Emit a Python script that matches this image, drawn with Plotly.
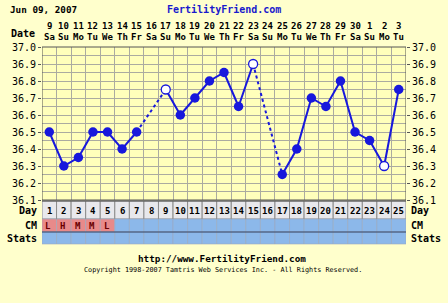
import plotly.graph_objects as go

# ---- data ----
days = list(range(1, 26))
dates = ["9", "10", "11", "12", "13", "14", "15", "16", "17", "18", "19", "20", "21",
         "22", "23", "24", "25", "26", "27", "28", "29", "30", "1", "2", "3"]
weekdays = ["Sa", "Su", "Mo", "Tu", "We", "Th", "Fr", "Sa", "Su", "Mo", "Tu", "We", "Th",
            "Fr", "Sa", "Su", "Mo", "Tu", "We", "Th", "Fr", "Sa", "Su", "Mo", "Tu"]
temps = [36.5, 36.3, 36.35, 36.5, 36.5, 36.4, 36.5, None, 36.75, 36.6, 36.7, 36.8, 36.85,
         36.65, 36.9, None, 36.25, 36.4, 36.7, 36.65, 36.8, 36.5, 36.45, 36.3, 36.75]
open_days = [9, 15, 24]
cm = ["L", "H", "M", "M", "L"]
y_ticks = [36.1, 36.2, 36.3, 36.4, 36.5, 36.6, 36.7, 36.8, 36.9, 37.0]

# ---- geometry helpers (pixels -> paper) ----
W, H = 448, 303
L, R, T, B = 38, 39, 47, 59
PW, PH = W - L - R, H - T - B


def py(px):
    return (H - B - px) / PH


def pxp(px):
    return (px - L) / PW


BLUE = "#1818DC"
FONT = "DejaVu Sans Mono"
temp_domain = [py(200), 1]

fig = go.Figure()

fig.add_trace(go.Scatter(
    x=days, y=temps, mode="lines", connectgaps=False,
    line=dict(color=BLUE, width=2), hoverinfo="skip", showlegend=False))

# dashed bridges over gaps
for i, t in enumerate(temps):
    if t is None:
        j0 = i - 1
        j1 = i + 1
        while j1 < len(temps) and temps[j1] is None:
            j1 += 1
        if j0 >= 0 and j1 < len(temps):
            fig.add_trace(go.Scatter(
                x=[days[j0], days[j1]], y=[temps[j0], temps[j1]], mode="lines",
                line=dict(color=BLUE, width=2, dash="3px,3px"),
                hoverinfo="skip", showlegend=False))

fx = [d for d, t in zip(days, temps) if t is not None and d not in open_days]
fy = [t for d, t in zip(days, temps) if t is not None and d not in open_days]
ox = [d for d in open_days]
oy = [temps[d - 1] for d in open_days]
fig.add_trace(go.Scatter(x=fx, y=fy, mode="markers",
                         marker=dict(color=BLUE, size=9.5, line=dict(width=0)),
                         showlegend=False))
fig.add_trace(go.Scatter(x=ox, y=oy, mode="markers",
                         marker=dict(color="white", size=9, line=dict(color=BLUE, width=1.3)),
                         showlegend=False))
fig.add_trace(go.Scatter(x=[1], y=[36.5], yaxis="y2", mode="markers",
                         marker=dict(opacity=0), showlegend=False, hoverinfo="skip"))

shapes = [dict(type="rect", xref="x", yref="paper", x0=0.5, x1=25.5,
               y0=temp_domain[0], y1=1, fillcolor="#FFFFBB",
               line=dict(width=0), layer="below")]
y_day_top, y_day_bot = py(201), py(219)
y_cm_top, y_cm_bot = py(219), py(232)
y_st_top, y_st_bot = py(232), py(244)
for d in days:
    x0, x1 = d - 0.5, d + 0.5
    shapes.append(dict(type="rect", xref="x", yref="paper", x0=x0, x1=x1,
                       y0=y_day_bot, y1=y_day_top, fillcolor="#E8E8EC",
                       line=dict(color="#8C8C8C", width=1), layer="below"))
    col = "#E88A8A" if d <= len(cm) else "#8CB8EA"
    shapes.append(dict(type="rect", xref="x", yref="paper", x0=x0, x1=x1,
                       y0=y_cm_bot, y1=y_cm_top, fillcolor=col,
                       line=dict(color="#9AA8C0", width=0.6), layer="below"))
    shapes.append(dict(type="rect", xref="x", yref="paper", x0=x0, x1=x1,
                       y0=y_st_bot, y1=y_st_top, fillcolor="#8CB8EA",
                       line=dict(color="#9AA8C0", width=0.6), layer="below"))
shapes.append(dict(type="line", xref="x", yref="paper", x0=0.5, x1=25.5,
                   y0=y_cm_bot, y1=y_cm_bot, line=dict(color="#334466", width=1)))
shapes.append(dict(type="line", xref="x", yref="paper", x0=0.5, x1=25.5,
                   y0=y_day_top, y1=y_day_top, line=dict(color="#555555", width=1)))
shapes.append(dict(type="rect", xref="x", yref="paper", x0=0.5, x1=25.5,
                   y0=temp_domain[0], y1=1, line=dict(color="#555555", width=1)))

ann = []


def txt(x, y, text, xref="paper", xanchor="center", size=9, color="black", bold=True):
    ann.append(dict(x=x, y=y, xref=xref, yref="paper",
                    text=f"<b>{text}</b>" if bold else text,
                    xanchor=xanchor, yanchor="middle", showarrow=False,
                    font=dict(family=FONT, size=size, color=color)))


for d, dt, wd in zip(days, dates, weekdays):
    txt(d, py(26), dt, xref="x")
    txt(d, py(37), wd, xref="x")
    txt(d, py(210.5), d, xref="x")
for d, c in zip(days, cm):
    txt(d - 0.4, py(225.5), c, xref="x", xanchor="left", size=9, color="#6A0000")

txt(pxp(4), py(33), "Date", xanchor="left", size=10)
for lab, yy in [("Day", 210.5), ("CM", 225.5), ("Stats", 238)]:
    txt(pxp(35), py(yy), lab, xanchor="right", size=10)
    txt(pxp(412), py(yy), lab, xanchor="left", size=10)

txt(pxp(3), py(9), "Jun 09, 2007", xanchor="left", size=9.3)
txt(pxp(223), py(9), "FertilityFriend.com", size=10, color="#1A1ACC")
txt(pxp(221), py(258), "http://www.FertilityFriend.com", size=9.3)
txt(pxp(222), py(270), "Copyright 1998-2007 Tamtris Web Services Inc. - All Rights Reserved.",
    size=6.8, bold=False)

yax = dict(range=[36.1, 37.0], domain=temp_domain, tickvals=y_ticks,
           tickformat=".1f", showgrid=True, gridcolor="#ABABA0", gridwidth=1,
           minor=dict(dtick=0.05, tick0=36.1, showgrid=True, gridcolor="#ABABA0"),
           ticks="outside", ticklen=3, tickcolor="#555555",
           tickfont=dict(family=FONT, size=10, color="black"), zeroline=False,
           showline=False)

fig.update_layout(
    width=W, height=H, margin=dict(l=L, r=R, t=T, b=B),
    paper_bgcolor="#FFFFCC", plot_bgcolor="rgba(0,0,0,0)",
    xaxis=dict(range=[0.5, 25.5], tickvals=[d + 0.5 for d in range(0, 26)],
               showticklabels=False, showgrid=True, gridcolor="#ABABA0",
               zeroline=False, ticks="", showline=False),
    yaxis=yax,
    yaxis2=dict(yax, overlaying="y", side="right", showgrid=False,
                minor=dict(showgrid=False)),
    shapes=shapes,
    annotations=ann, showlegend=False,
)
fig.write_html("out.html")
